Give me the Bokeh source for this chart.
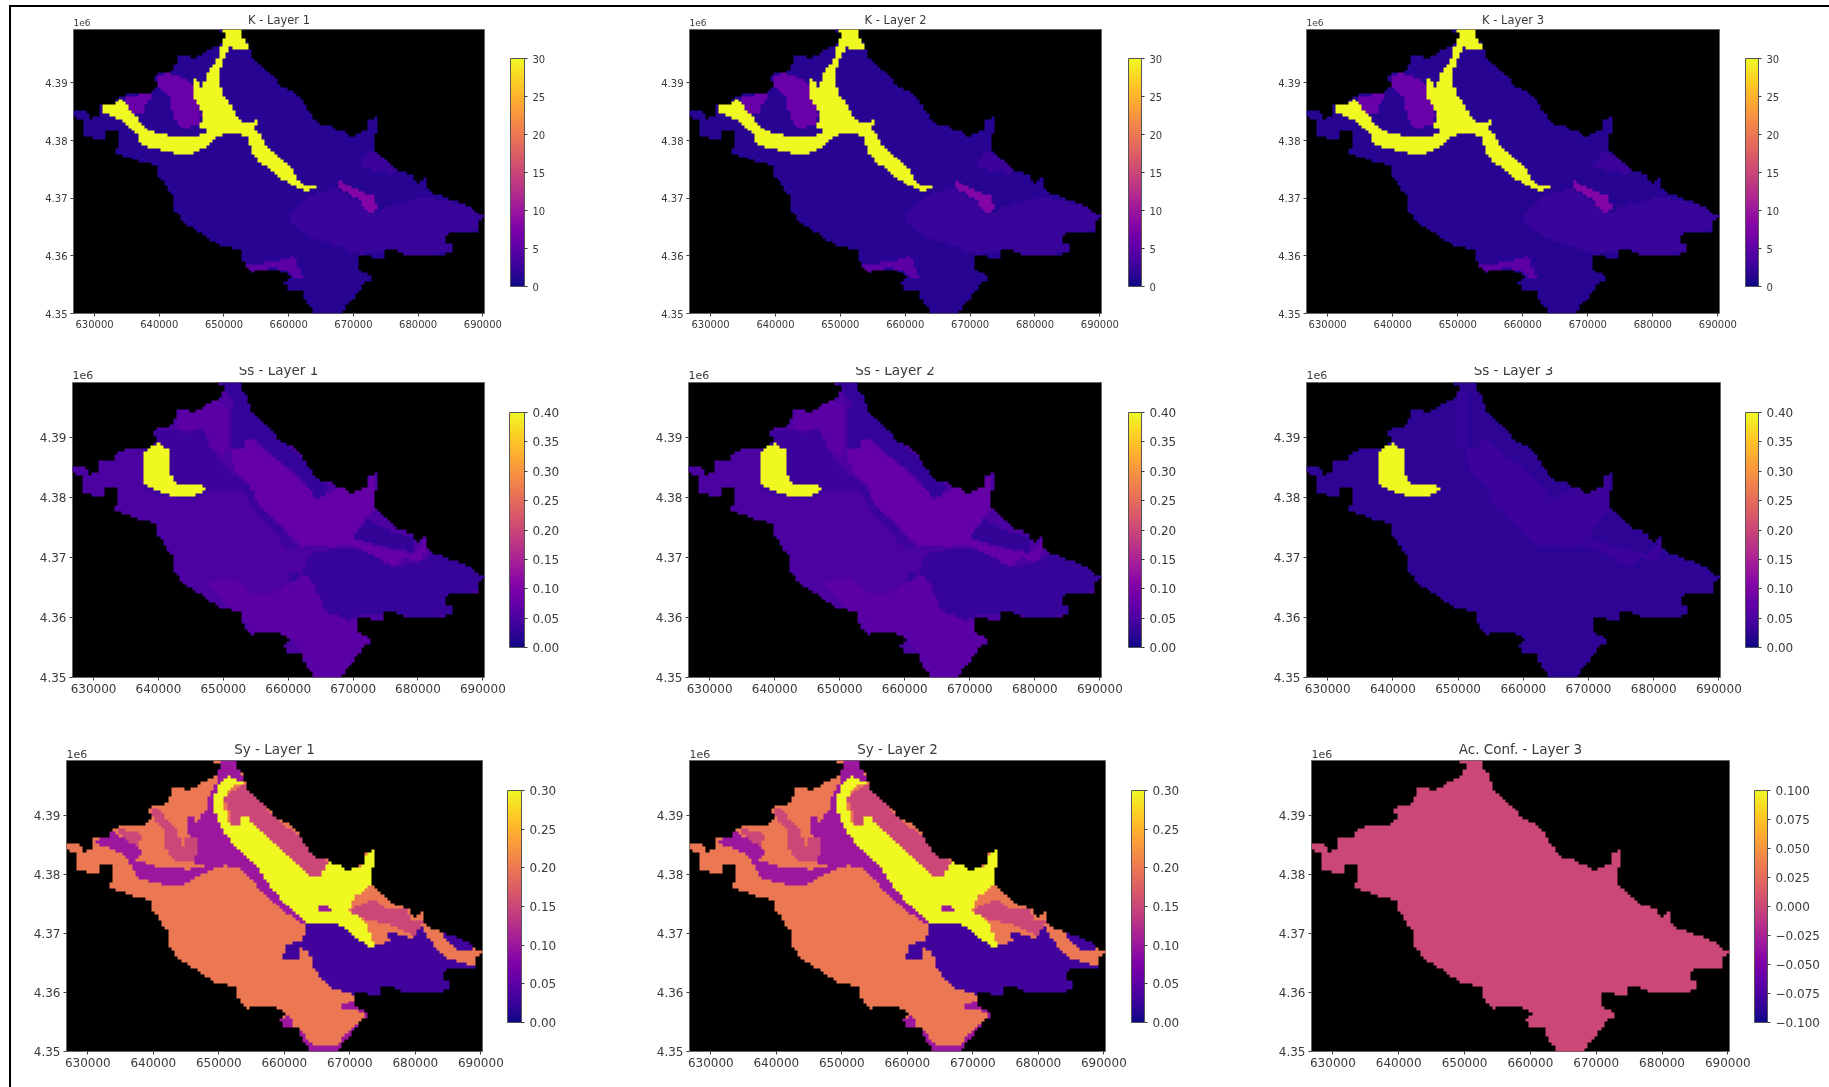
import numpy as np
from bokeh.embed import file_html
from bokeh.resources import INLINE
from bokeh.layouts import column, row
from bokeh.models import (ColorBar, FixedTicker, Label, LinearColorMapper, Range1d, Spacer, Title)
from bokeh.palettes import Plasma256
from bokeh.plotting import figure

# ---------- data: (easting km, northing km above 4350 km) ----------
OUTLINE = [(650.4,49.3),(652.4,49.3),(653,47.7),(653.9,46),(654.3,44.3),(655.9,42.6),(657.6,41.1),(658.7,39.2),(661,38),(662.2,36.6),(663.3,34.6),(664.7,32.8),(666.5,32.4),(667.3,31.5),(668.5,31.5),(669.3,30.4),(670.8,30.9),(672.2,31.8),(672.4,33.5),(673.6,33.8),(673.5,31.2),(673.2,28.4),(674.8,26.7),(677,24.4),(679.3,24.1),(679.6,22.4),(681,23.3),(681.6,21),(683.9,20.1),(686.2,19.3),(687.9,18.4),(690.1,16.7),(689.4,15.8),(689.4,14.1),(686.8,13.9),(684.2,13.7),(684.5,12.2),(685.5,11.9),(685.5,10.5),(682.5,9.9),(678.2,9.9),(676.5,10.8),(675,11),(674.5,9.5),(671.6,9.9),(670.6,10.3),(670.6,7.9),(671.9,6.8),(672.9,6.5),(672.9,5.6),(671.6,5.1),(670.8,3.7),(669.9,2.6),(668.8,1.4),(668.4,0),(663.9,0),(663,1.7),(661.9,4),(659.9,4),(659.3,5.4),(660.2,6.2),(658.7,7.4),(655.3,7.4),(654.2,7.1),(653,8.8),(653,10.8),(650.7,11.4),(649.3,11.6),(647.3,13.3),(645.6,14.5),(643.9,15.6),(642.4,17.6),(642.1,20.4),(641,21.9),(639.8,24.1),(639.7,25.5),(637,26.1),(635.3,27),(633.3,27.5),(633.8,29.8),(633.8,31.5),(632.1,31.5),(631.5,30.1),(628.4,30.4),(628.4,33.5),(627,33.8),(627,35.2),(628.7,35.1),(629.5,33.5),(630.6,34.1),(630.7,36),(633,36.2),(634,37.7),(638.4,38),(639.6,38.9),(639.4,41.1),(642.4,42),(642.7,44.3),(643.9,44.7),(645.3,43.8),(647.9,45.7),(649.6,46.3),(650.4,48.2),(649.3,48.8)]

K_RIVER = [(650,49.2),(652.4,49.2),(653.3,47.1),(654,45.4),(651.5,45.6),(650.8,46),(650.2,44.3),(649.4,42.5),(649.4,40.5),(649.6,37.6),(650.6,36.8),(651.6,34.7),(652.7,33.3),(654.5,32.9),(655.1,33.9),(655.4,32.7),(654.7,32.1),(655.7,30.7),(656.5,29),(658.2,27.2),(660.3,25.2),(661.5,22.9),(662.7,21.9),(664.1,21.8),(662.7,21),(661.8,21.5),(659.7,22.6),(657.5,24.3),(655.3,26.4),(654.1,28.4),(653.6,30.4),(652.1,31),(650.6,31),(648.9,30.4),(647.5,29),(644.8,27.6),(643,27.5),(640.3,28.2),(637.3,29),(636.4,31),(635,32.4),(633.7,33.6),(631.8,34.4),(631,35.3),(631.6,36),(633,36),(634.2,37.3),(635.1,35.6),(636.6,33.7),(638.2,31.6),(641.8,30.6),(645.4,30.3),(647.6,31.5),(646.3,32.1),(646.8,34.2),(645.7,36.5),(645.2,38.2),(645.4,40.8),(646.6,39.1),(647.5,41.4),(648.5,43.1),(649.4,45.1)]
K_CENTRE = [(639.7,40.8),(641.2,41.5),(644.2,40.5),(645.4,39.1),(645.2,37.9),(645.9,36.2),(646.6,34.2),(646,32.7),(643.6,31.9),(642.1,33.9),(641.8,37),(640.6,38.2),(639.5,39.6)]
K_WEST = [(634.5,37.3),(639,38.2),(638,35.9),(637.5,34.4),(636,34.4),(635.1,35.9)]
K_EAST = [(660,17.1),(664.2,20.9),(667.3,21.5),(670.3,19.7),(673.4,17.4),(675.5,18.6),(680.9,20),(683.1,19.7),(687.9,18.6),(690.4,16.6),(689.4,14.5),(685.5,13.7),(684.3,13.7),(685.5,10.5),(680,9.9),(676.4,10.5),(670.9,10.2),(668.5,11.1),(664.2,12.8),(660.6,15.1)]
K_NE = [(670.6,24.9),(672.6,28.4),(677,24.9),(675.8,24.1),(672.1,24.9)]
K_SLIVER = [(667.6,23.2),(669.1,22),(673,20.3),(674,18),(672.7,17.4),(670.6,19.7),(667.9,21.5)]
K_SOUTH = [(653.3,8.5),(657,8.8),(660.9,9.9),(661.5,8.2),(662.1,5.9),(660.9,6.2),(659.4,7.6),(657,7.9),(654.5,7)]

SS_LENS = [(640,38.9),(641.7,37.6),(641.9,33.7),(642.9,32),(645.3,32),(647.5,31.6),(646.9,30.6),(645,30.1),(641.7,30.2),(639.3,31.2),(637.7,32.3),(638,33.7),(637.6,35.4),(637.7,36.9),(638.8,38.2)]
SS_NW_DARK = [(639.9,41),(644.4,40.7),(646.9,41.2),(648.1,37.9),(650.5,34.5),(654.2,31.7),(655.4,28.4),(658.4,25.6),(661.2,21.7),(659.7,21.7),(657.2,25),(654.8,27.3),(653,31.2),(648.7,31.2),(645,29.5),(640.2,30.1),(637.7,31.2),(638,37.9)]
SS_NE_STRIP = [(649.6,48.8),(652.7,49),(654.2,44.9),(657.8,40.7),(662.1,36.2),(666.4,31.7),(665.4,29.5),(663.9,29.8),(662.7,32.3),(657.2,37.3),(654.8,39.6),(653.6,39.6),(653,37.6),(651.4,37.9),(651,43.5),(651.7,45.7)]
SS_BAND = [(653.3,39.6),(654.8,39.3),(657.2,37),(662.7,32),(664.5,29.5),(668.2,31.7),(669.4,30.6),(673.1,33.4),(673.4,30.1),(673.7,28.4),(670.9,25),(670,23.1),(674.3,21.7),(679.1,20.6),(681.3,23.1),(681.6,21.7),(680.4,19.4),(677.9,20),(676.1,18.3),(674.3,19.7),(670.6,21.7),(668.2,22.2),(667,21.7),(662.1,22),(658.4,25.6),(655.4,28.4),(654.2,32),(651.7,34),(651.1,37.9),(653,37.9)]
SS_NORTH = [(642.6,43.2),(643.8,44.6),(648.7,46),(650.8,44.9),(651,38.4),(649.9,36.5),(648.1,38.4),(646.9,41.5),(644.4,40.9),(642.6,41.5)]
SS_SE_DARK = [(660,17.8),(662.1,17.2),(663.3,20.6),(668.2,21.7),(670.6,21.7),(674.3,19.7),(676.1,18.3),(680.4,19.2),(682.8,21.1),(688.3,18.3),(690.4,16.4),(689.5,14.4),(684.6,13.9),(685.5,10.5),(680.4,9.9),(676.7,10.5),(670.9,10.5),(669.4,9.4),(665.7,11.1),(663.9,15.5),(662.7,17.2),(660.3,15.8)]
SS_NE_DARK = [(670,23.4),(672.2,26.1),(675,24.5),(679.1,23.4),(679.1,21.1),(674.3,21.9)]
SS_SOUTH = [(646.9,16.1),(651.7,16.4),(654.8,13.9),(657.2,13.9),(662.7,17.2),(663.9,15.5),(665.7,11.1),(669.4,9.4),(670.9,9.4),(673.1,6.6),(670.6,3.2),(668.8,0),(663.3,0),(662.1,4.4),(660.3,6.6),(654.8,7.2),(653.3,9.1)]
SS3_STRIP = [(650,47.5),(651.5,47.5),(651.2,38),(650,38)]

SY_CHANNEL = [(649.3,48.5),(652.4,49.2),(653.9,45.7),(651.1,45.7),(650,44),(651,40),(653,34),(656,32),(660,28),(664.5,23),(663.5,21.4),(662,21.9),(657.8,25.5),(655.4,28.4),(653,30.9),(651,31.3),(648,30.2),(645.1,28.4),(643,27.8),(639.2,28.7),(637.4,29.3),(636.6,31.6),(635,33.5),(632.6,34.5),(631,35.1),(631.9,36.2),(634,37),(636.1,35.4),(638.5,33.7),(637.4,32.2),(640.8,31),(645.6,30.7),(648,31.3),(646.2,31.8),(646.8,34.6),(645,36.9),(645.6,40.3),(646.5,38.7),(647.9,40.2),(648.5,43),(649.9,45.9)]
SY_NE_STRIP = [(650.8,42.9),(652.1,44),(654,45.1),(656,42.6),(659,38.9),(662,36.6),(664.4,33.5),(666.6,31.8),(665.3,29.2),(663.8,29.5),(661.4,32.3),(658.4,35.2),(655.4,38),(654.3,39.7),(653.3,39.7),(653,37.9),(651.6,37.9),(651.5,40.3)]
SY_FINGER = [(639.7,41),(640.6,41.1),(642.4,38.6),(643.6,37.5),(644.5,34.6),(645.1,36.3),(646.7,36),(646.9,34.1),(646.3,32.1),(643.3,31.8),(642,33.8),(641.8,36.9),(640,39.4)]
SY_WEST = [(634.2,37.7),(638.2,36.6),(637.9,34.6),(636.2,35.1)]
SY_EAST = [(669.9,23.6),(672.6,25.3),(674.1,25.3),(675.6,24.1),(678.9,23.8),(679.2,21.8),(681.1,22.1),(680.5,19.3),(677.7,20.4),(676.2,21.3),(672.3,22.1)]
SY_WEDGE = [(651.4,46.3),(654,45.4),(651.8,44.6),(650.5,42.3),(651.6,37.9),(653,37.9),(653.3,39.7),(654.3,39.7),(655.4,38),(658.4,35.2),(661.4,32.3),(663.8,29.5),(665.3,29.2),(666.6,31.8),(668.1,31.7),(669.6,30.4),(672.3,31.5),(672.6,33.5),(673.6,33.8),(673.4,28.4),(670.8,26.1),(669.9,23.6),(672.3,21.9),(673.8,17.6),(672.9,17.5),(669.9,20.1),(667.5,21.3),(663.2,21.6),(660.8,24.1),(657.8,27.8),(655.4,31.8),(653,33.8),(650.8,36.9),(649.9,38.6),(649,42.3),(650.2,45.4)]
SY_ISLET = [(665,24.1),(666.3,24.9),(667.5,23.7),(665.4,23.6)]
SY_SE = [(663.5,21.5),(668.1,21.5),(669.9,20.1),(672.9,17.5),(674.7,18.2),(676.2,18.4),(675.6,20.3),(679.5,19),(681.1,21),(682,18.8),(685,15.6),(689.5,14.3),(689.4,13.6),(686.2,13.6),(684.1,13.3),(686,12.2),(686,10),(680.8,9.5),(677.1,10.3),(673.5,9.2),(670.5,9.6),(666.9,10.8),(664.4,14.2),(663.8,16.7),(662.3,17.6),(662,15.6),(659.9,15.6),(660.2,18.2),(662.6,18.3)]
SY_NE_SE = [(683.8,20.1),(686.8,19.3),(689.2,17.3),(686.2,17)]
SY_SOUTH_RIM = [(659.3,5.1),(660.7,6.2),(661.4,4.3),(663.2,2.6),(664.4,1),(668.1,1),(668.8,2.3),(670.8,4.3),(672.3,6),(671.4,6.8),(668.7,6.9),(668.7,7.9),(670.5,8.4),(673.2,6.5),(673.2,5.4),(671.1,3.1),(669.3,1.4),(668.7,0),(663.8,0),(662,2.8),(659.6,4.3)]

# value painted over a base value, in paint order
K_BASE = 1.3
K_ZONES = [(2.4, K_EAST), (2.6, K_NE), (5.0, K_SOUTH), (6.0, K_CENTRE), (6.0, K_WEST), (8.0, K_SLIVER), (30.0, K_RIVER)]
SS_BASE = 0.05
SS_ZONES = [(0.065, SS_SOUTH), (0.035, SS_NW_DARK), (0.065, SS_NORTH), (0.028, SS_NE_STRIP), (0.03, SS_SE_DARK), (0.075, SS_BAND), (0.025, SS_NE_DARK), (0.4, SS_LENS)]
SS3_BASE = 0.022
SS3_ZONES = [(0.035, SS_BAND), (0.03, SS3_STRIP), (0.4, SS_LENS)]
SY_BASE = 0.2
SY_ZONES = [(0.1, SY_CHANNEL), (0.1, SY_SOUTH_RIM), (0.15, SY_NE_STRIP), (0.15, SY_FINGER), (0.15, SY_WEST), (0.15, SY_EAST), (0.3, SY_WEDGE), (0.1, SY_ISLET), (0.03, SY_SE), (0.03, SY_NE_SE)]
AC_BASE = 0.0
AC_ZONES = []

X_TICKS = [630000, 640000, 650000, 660000, 670000, 680000, 690000]
Y_TICKS = [4350000, 4360000, 4370000, 4380000, 4390000]
Y_LABELS = ["4.35", "4.36", "4.37", "4.38", "4.39"]
K_CB = [0, 5, 10, 15, 20, 25, 30]
SS_CB = [0, 0.05, 0.10, 0.15, 0.20, 0.25, 0.30, 0.35, 0.40]
SY_CB = [0, 0.05, 0.10, 0.15, 0.20, 0.25, 0.30]
AC_CB = [-0.1, -0.075, -0.05, -0.025, 0, 0.025, 0.05, 0.075, 0.1]

# ---------- page geometry (page pixels) ----------
XMIN, XMAX, YMIN, YMAX = 626750, 690250, 4350000, 4399250
CELL = 0.5
ROW_TOP = [7, 350, 735]
ROW_BOT = [350, 735, 1081]
ROW_CLIP = [0, 17, 0]
ROW_FRAME = [(29, 313), (382, 677), (760, 1051)]
ROW_CB = [(58, 286), (412, 647), (790, 1022)]
ROW_FS = [10, 12, 12]
ROW_TFS = [11.5, 13.5, 13.5]
ROW_TITLE_OFF = [6, 9, 7]
ROW_OFFSET_Y = [7, 8, 7]
COL_LEFT = [11, 590, 1205]
COL_RIGHT = [590, 1205, 1826]
OVERLAP = 6
FRAME_X = [[(73, 484), (689, 1101), (1306, 1719)],
           [(72, 484), (688, 1101), (1306, 1720)],
           [(66, 482), (689, 1105), (1311, 1729)]]
CB_X = [[(510, 524), (1128, 1141), (1745, 1758)],
        [(509, 524), (1128, 1141), (1745, 1758)],
        [(507, 521), (1131, 1144), (1754, 1767)]]
INK = "#3a3a3a"


def inside(poly, xx, yy):
    px = np.array([p[0] for p in poly]); py = np.array([p[1] for p in poly])
    res = np.zeros(xx.shape, dtype=bool)
    for i in range(len(px)):
        j = i - 1
        cross = (py[i] > yy) != (py[j] > yy)
        with np.errstate(divide="ignore", invalid="ignore"):
            xat = (px[j] - px[i]) * (yy - py[i]) / (py[j] - py[i]) + px[i]
        res ^= cross & (xx < xat)
    return res


def grid(base, zones):
    nx = int(round((XMAX - XMIN) / 1000 / CELL)); ny = int(round((YMAX - YMIN) / 1000 / CELL))
    xs = XMIN / 1000 + CELL * (np.arange(nx) + 0.5)
    ys = CELL * (np.arange(ny) + 0.5) + (YMIN / 1000 - 4350)
    xx, yy = np.meshgrid(xs, ys)
    z = np.full(xx.shape, base, dtype=float)
    for v, poly in zones:
        z[inside(poly, xx, yy)] = v
    z[~inside(OUTLINE, xx, yy)] = np.nan
    return z


def fmt(t, dec):
    s = f"{abs(t):.{dec}f}"
    return ("\u2212" + s) if t < 0 else s


def panel(r, c, title, base, zones, low, high, cb_ticks, dec):
    fx0, fx1 = FRAME_X[r][c]; fy0, fy1 = ROW_FRAME[r]
    css = {"filter": "blur(0.6px)"}
    if ROW_CLIP[r]:
        css["clip-path"] = f"inset({ROW_CLIP[r]}px 0 0 0)"
    over = OVERLAP if c == 0 else 0
    p = figure(frame_width=fx1 - fx0, frame_height=fy1 - fy0,
               min_border_left=fx0 - COL_LEFT[c] + over, min_border_right=COL_RIGHT[c] - fx1,
               min_border_top=fy0 - ROW_TOP[r], min_border_bottom=ROW_BOT[r] - fy1,
               x_range=Range1d(XMIN, XMAX), y_range=Range1d(YMIN, YMAX),
               toolbar_location=None, output_backend="svg", background_fill_color="black",
               border_fill_color=None, outline_line_color="#666666", outline_line_width=1,
               margin=(0, 0, 0, -over), styles=css)
    p.grid.visible = False
    mapper = LinearColorMapper(palette=Plasma256, low=low, high=high, nan_color=(0, 0, 0, 0))
    p.image(image=[grid(base, zones)], x=XMIN, y=YMIN, dw=XMAX - XMIN, dh=YMAX - YMIN, color_mapper=mapper)
    fs = f"{ROW_FS[r]}px"
    for ax in (p.xaxis[0], p.yaxis[0]):
        ax.axis_line_color = None
        ax.minor_tick_line_color = None
        ax.major_tick_in = 0
        ax.major_tick_out = 3
        ax.major_tick_line_color = INK
        ax.major_label_text_font = "DejaVu Sans"
        ax.major_label_text_font_size = fs
        ax.major_label_text_color = INK
        ax.major_label_standoff = 3
    p.xaxis[0].ticker = FixedTicker(ticks=X_TICKS)
    p.xaxis[0].major_label_overrides = {t: str(t) for t in X_TICKS}
    p.yaxis[0].ticker = FixedTicker(ticks=Y_TICKS)
    p.yaxis[0].major_label_overrides = dict(zip(Y_TICKS, Y_LABELS))
    p.title = Title(text=title, align="center", standoff=ROW_TITLE_OFF[r], text_font="DejaVu Sans",
                    text_font_size=f"{ROW_TFS[r]}px", text_font_style="normal", text_color=INK)
    p.add_layout(Label(x=XMIN, y=YMAX, y_offset=ROW_OFFSET_Y[r], text="1e6", text_font="DejaVu Sans",
                       text_font_size=f"{ROW_FS[r] - 1}px", text_color=INK,
                       text_align="left", text_baseline="alphabetic"), "left")
    cx0, cx1 = CB_X[r][c]; cy0, cy1 = ROW_CB[r]
    cb = ColorBar(color_mapper=mapper, location=(cx0 - fx0, fy1 - cy1), width=cx1 - cx0, height=cy1 - cy0,
                  padding=0, margin=0, ticker=FixedTicker(ticks=cb_ticks),
                  major_label_overrides={t: fmt(t, dec) for t in cb_ticks},
                  major_label_text_font="DejaVu Sans", major_label_text_font_size=fs,
                  major_label_text_color=INK, major_tick_in=0, major_tick_out=3,
                  major_tick_line_color=INK, minor_tick_line_color=None, bar_line_color="#555555",
                  label_standoff=5, background_fill_color=None, border_line_color=None)
    p.add_layout(cb, "center")
    return p


panels = [
    [panel(0, 0, "K - Layer 1", K_BASE, K_ZONES, 0, 30, K_CB, 0),
     panel(0, 1, "K - Layer 2", K_BASE, K_ZONES, 0, 30, K_CB, 0),
     panel(0, 2, "K - Layer 3", K_BASE, K_ZONES, 0, 30, K_CB, 0)],
    [panel(1, 0, "Ss - Layer 1", SS_BASE, SS_ZONES, 0, 0.4, SS_CB, 2),
     panel(1, 1, "Ss - Layer 2", SS_BASE, SS_ZONES, 0, 0.4, SS_CB, 2),
     panel(1, 2, "Ss - Layer 3", SS3_BASE, SS3_ZONES, 0, 0.4, SS_CB, 2)],
    [panel(2, 0, "Sy - Layer 1", SY_BASE, SY_ZONES, 0, 0.3, SY_CB, 2),
     panel(2, 1, "Sy - Layer 2", SY_BASE, SY_ZONES, 0, 0.3, SY_CB, 2),
     panel(2, 2, "Ac. Conf. - Layer 3", AC_BASE, AC_ZONES, -0.1, 0.1, AC_CB, 3)],
]

top_line = Spacer(width=1820, height=2, margin=(5, 0, 0, 9), styles={"background-color": "black"})
left_line = Spacer(width=2, height=1080, margin=(0, 0, 0, 9), styles={"background-color": "black"})
grid_col = column(*[row(*rw) for rw in panels])
root = column(top_line, row(left_line, grid_col))

open("out.html", "w").write(file_html(root, INLINE))
